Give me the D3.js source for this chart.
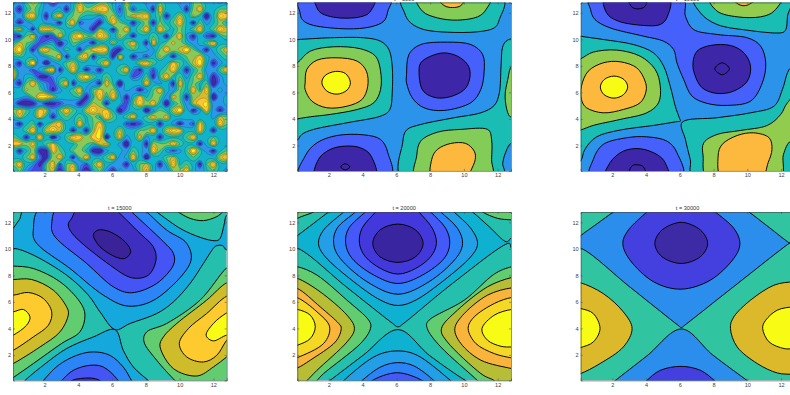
<!DOCTYPE html>
<html>
<head>
<meta charset="utf-8">
<script src="https://cdnjs.cloudflare.com/ajax/libs/d3/7.8.5/d3.min.js"></script>
<style>
body {margin:0; background:#fff; overflow:hidden;}
text {font-family:"Liberation Sans",Arial,sans-serif;}
</style>
</head>
<body>
<svg id="chart" width="790" height="395"></svg>
<script>
var xTicks = [2,4,6,8,10,12];
var yTicks = [2,4,6,8,10,12];
var xDomain = [0.125,12.79];
var yDomain = [0.08,12.78];

//first panel: field on a regular grid, rows from the top of the frame
var field0 = [
[4,3,5,6,5,3,1,3,3,4,6,4,4,5,5,4,3,7,4,4,3,3,5,4,4,3,3,5,5,4,4,3,4],
[3,1,4,5,4,3,3,4,1,4,8,5,6,8,7,4,2,5,2,4,4,1,8,4,4,4,1,5,8,4,4,5,5],
[4,3,6,8,4,1,5,8,4,5,5,4,4,3,5,6,3,5,7,6,8,4,5,1,4,6,4,6,4,0,4,8,7],
[3,1,3,4,4,3,3,1,5,8,2,3,3,1,4,8,5,4,1,4,5,1,5,4,5,8,4,1,5,3,4,5,4],
[5,7,4,1,6,8,6,5,4,4,4,3,1,6,4,1,5,8,4,5,8,4,8,5,4,5,4,5,8,4,5,8,6],
[2,1,5,8,3,1,2,8,4,6,9,5,5,8,6,4,6,4,1,4,4,5,4,1,5,8,3,1,4,2,1,4,5],
[4,6,5,4,2,3,4,0,3,5,4,3,1,4,4,6,4,5,8,4,1,8,4,5,6,5,4,3,4,5,8,4,4],
[6,9,4,1,6,8,5,3,5,4,1,5,7,8,7,2,1,4,5,4,4,3,5,8,5,6,9,5,3,1,4,5,7],
[4,5,4,4,3,4,5,8,1,4,6,8,1,4,4,1,8,4,1,3,2,4,6,4,1,4,5,5,7,4,3,4,5],
[3,1,5,9,3,0,3,4,5,6,4,4,4,5,8,4,4,4,4,6,8,5,4,4,7,5,4,6,9,4,1,3,4],
[6,3,3,2,4,6,8,1,4,8,4,1,3,1,4,4,5,8,3,1,4,2,4,5,8,4,1,4,5,3,3,5,8],
[8,3,4,4,1,1,3,4,4,4,6,9,5,4,5,4,4,4,2,3,5,1,5,8,4,5,3,5,8,4,1,3,4],
[3,1,5,8,4,3,2,5,8,1,4,4,3,1,8,4,0,4,4,4,8,4,3,4,1,8,4,5,4,5,0,3,4],
[4,4,6,5,5,3,1,3,4,5,8,3,5,7,5,6,3,4,3,1,3,5,8,4,3,5,4,8,4,8,3,4,3],
[4,4,3,5,8,8,6,4,4,4,5,1,4,8,4,8,4,1,4,7,4,5,5,3,7,5,1,5,6,6,0,3,4],
[3,1,0,1,3,1,1,2,3,3,1,3,6,5,1,4,4,2,5,8,5,8,4,0,4,5,3,6,7,8,3,3,4],
[5,7,5,4,7,6,3,5,8,5,4,6,8,6,7,4,0,3,4,4,0,3,5,4,6,9,4,1,3,7,3,1,3],
[4,6,4,4,7,4,1,4,5,4,5,4,5,4,8,5,4,5,8,4,5,7,5,7,4,4,4,4,4,4,3,6,5],
[3,1,4,5,1,4,6,7,4,4,8,4,5,7,4,4,4,2,1,2,4,4,1,4,3,1,3,2,7,4,4,8,5],
[4,4,5,8,4,6,8,6,4,1,4,1,5,8,4,4,6,4,4,5,5,8,4,6,8,7,4,4,7,4,1,4,4],
[5,4,1,4,8,4,0,3,5,8,7,5,7,8,0,4,7,3,4,7,3,4,1,4,4,4,5,8,4,4,5,4,4],
[7,7,5,7,4,5,7,4,4,4,5,5,4,6,7,4,3,0,4,4,1,6,5,5,8,5,4,4,1,4,8,4,4],
[4,1,4,5,1,1,7,5,4,5,5,4,1,0,3,4,4,3,5,4,3,8,5,3,2,3,5,9,5,3,1,4,5],
[4,4,5,8,3,1,5,8,4,1,5,8,4,4,5,8,3,4,8,4,0,4,4,5,6,4,4,5,4,4,4,6,8],
[5,8,4,3,1,5,8,2,5,6,3,2,5,8,4,3,3,1,4,5,6,4,1,4,8,4,5,4,1,5,8,4,4],
[4,5,3,2,2,5,6,1,5,8,3,0,4,5,3,1,4,3,3,5,8,4,3,3,5,5,8,4,3,4,5,4,3]
];
var levels0 = [1.6,2.3,2.9,3.5,4.2,5.0,5.6,6.2,7.2];
var colors0 = ["#3d2aa8","#4648e0","#3f70f4","#2a98e6","#12b2cc","#2fc29c","#8ac85a","#d4bb30","#fcc534","#f8f020"];

//other panels: [level, outline of the level read as x,y pairs]
var colors5000 = ["#3d27a8","#4660fb","#2b93ea","#19bdb4","#83cc58","#fcb93e","#f8fb14"];
var base5000 = 2;
var lines5000 = [
[1,[[0.29,13.2],[0.29,12],[0.45,11.45],[1.09,11.05],[3.07,10.79],[4.46,10.94],[5.25,11.37],[5.49,12.13],[5.57,13.2]]],
[0,[[1.25,13.2],[1.29,12.38],[1.58,11.95],[2.28,11.67],[3.07,11.6],[3.87,11.7],[4.42,12.05],[4.66,13.2]]],
[1,[[0.29,-0.5],[0.59,1.2],[1.29,2.2],[2.48,2.75],[4.06,2.8],[5.06,2.45],[5.49,1.45],[5.57,-0.5]]],
[0,[[1.25,-0.5],[1.38,0.95],[2.08,1.7],[2.97,1.95],[3.87,1.82],[4.5,1.2],[4.7,-0.5]]],
[0,[[2.7,0.39],[2.97,0.62],[3.24,0.39],[2.97,0.16]]],
[1,[[6.6,7.35],[6.74,8.86],[7.44,9.61],[9.02,9.79],[10.41,9.61],[11.11,8.86],[11.2,7.6],[11.0,6.22],[10.41,5.22],[8.83,4.64],[7.63,4.84],[6.94,5.59],[6.6,6.72]]],
[0,[[7.34,7.48],[7.44,8.23],[8.03,8.73],[8.83,8.98],[9.62,8.73],[10.21,8.11],[10.37,7.35],[10.12,6.35],[9.42,5.77],[8.53,5.57],[7.83,5.84],[7.48,6.35]]],
[3,[[-0.5,9.99],[0.13,9.99],[2.08,10.12],[4.06,10.12],[5.06,9.86],[5.55,9.24],[5.75,7.98],[5.75,5.97],[5.61,4.71],[5.06,4.21],[3.07,3.71],[1.09,3.21],[0.39,2.83],[0.13,2.4],[-0.5,2]]],
[4,[[-0.5,7.8],[0.13,8.23],[0.89,9.11],[2.28,9.44],[3.87,9.29],[4.76,8.73],[5.06,7.6],[5.06,6.22],[4.66,5.22],[3.67,4.71],[2.08,4.34],[0.89,4.16],[0.13,4.01],[-0.5,3.9]]],
[5,[[0.59,6.72],[0.69,7.73],[1.29,8.43],[2.48,8.61],[3.67,8.36],[4.22,7.6],[4.3,6.47],[3.96,5.47],[3.07,4.96],[1.88,4.84],[0.99,5.34],[0.59,6.22]]],
[6,[[1.58,6.72],[1.78,7.28],[2.38,7.58],[2.97,7.43],[3.27,6.77],[3.07,6.17],[2.48,5.87],[1.88,6.1]]],
[3,[[6.38,-0.5],[6.37,2.2],[6.6,3.16],[7.44,3.58],[9.42,4.09],[11.0,4.46],[11.8,5.02],[12.1,5.97],[12.2,7.98],[12.28,9.36],[12.5,9.86],[12.83,10.04],[13.5,10.04],[13.5,2.0],[12.83,2.2],[12.5,1.57],[12.3,0.69],[12.26,-0.5]]],
[3,[[6.4,13.2],[6.48,12],[6.84,11.25],[7.63,10.74],[9.02,10.54],[10.81,10.57],[11.8,10.87],[12.1,11.5],[12.24,13.2]]],
[4,[[7.2,-0.5],[7.2,1.2],[7.44,2.33],[8.43,3.0],[9.82,3.21],[11.4,3.21],[11.64,2.45],[11.64,0.94],[11.56,-0.5]]],
[5,[[8.13,-0.5],[8.09,0.94],[8.43,1.7],[9.22,2.15],[10.11,2.15],[10.61,1.57],[10.67,0.94],[10.41,0.09],[10.2,-0.5]]],
[4,[[7.28,13.2],[7.54,12.13],[8.43,11.62],[9.62,11.45],[10.81,11.7],[11.31,12.25],[11.5,13.2]]],
[5,[[8.43,13.2],[8.83,12.55],[9.32,12.4],[9.82,12.55],[10.06,13.2]]],
[4,[[13.5,8.3],[12.83,7.98],[12.6,6.97],[12.44,5.72],[12.6,4.46],[12.83,4.09],[13.5,3.9]]]
];

var colors10000 = ["#3d27a8","#4660fb","#2b93ea","#19bdb4","#92cc4e","#fcb93e","#f8fb14"];
var base10000 = 2;
var lines10000 = [
[1,[[0.71,13.2],[0.71,12.25],[0.97,11.5],[1.86,10.87],[3.85,10.24],[5.04,9.86],[5.63,9.24],[5.83,8.23],[6.23,6.97],[6.72,5.72],[7.62,5.17],[8.81,5.02],[10.19,5.34],[10.89,6.72],[11.09,8.23],[10.79,9.49],[10,10.12],[8.21,10.37],[6.82,10.74],[6.33,11.75],[6.07,13.2]]],
[1,[[0.77,-0.5],[0.87,0.94],[1.46,2.08],[2.85,2.58],[4.04,2.65],[5.23,2.33],[5.83,1.45],[6.07,-0.5]]],
[0,[[1.62,13.2],[1.66,12],[2.36,11.37],[3.85,11.05],[4.84,11.12],[5.27,11.75],[5.31,13.2]]],
[0,[[2.95,13.2],[3.15,12.45],[3.55,12.3],[3.94,12.5],[4.04,13.2]]],
[0,[[6.78,8.23],[7.02,9.11],[7.81,9.54],[9,9.54],[9.8,8.98],[10.19,7.98],[10,6.85],[9.2,6.1],[8.21,5.92],[7.32,6.35],[6.88,7.35]]],
[0,[[8.07,7.78],[8.51,8.23],[8.94,7.78],[8.51,7.33]]],
[0,[[1.66,-0.5],[1.86,0.69],[2.65,1.57],[3.65,1.75],[4.64,1.32],[5.13,0.69],[5.23,-0.5]]],
[0,[[2.95,-0.5],[3.15,0.44],[3.49,0.54],[3.85,0.37],[4.0,-0.5]]],
[3,[[-0.5,10.4],[0.115,10.24],[1.46,9.99],[3.25,9.61],[4.44,8.98],[5.04,7.98],[5.43,6.47],[5.73,4.96],[5.95,4.15],[6.03,3.83],[5.85,3.8],[4.44,3.51],[2.46,3.16],[1.07,2.65],[0.37,1.7],[0.115,0.82],[-0.5,0.5]]],
[4,[[-0.5,8.3],[0.115,8.53],[0.87,9.04],[2.26,9.19],[3.65,8.73],[4.54,7.73],[4.84,6.47],[4.74,5.22],[4.04,4.46],[2.46,3.96],[0.87,3.51],[0.115,3.16],[-0.5,3]]],
[5,[[0.17,6.47],[0.57,7.6],[1.46,8.23],[2.46,8.31],[3.45,7.85],[3.94,6.85],[4,6.1],[3.65,5.22],[2.65,4.71],[1.46,4.46],[0.47,4.84],[0.17,5.47]]],
[6,[[1.29,6.4],[1.52,6.97],[2.1,7.23],[2.69,6.97],[2.91,6.4],[2.65,5.82],[2.1,5.57],[1.52,5.82]]],
[3,[[6.15,3.76],[8.21,4.09],[10.19,4.46],[11.58,4.96],[12.08,6.22],[12.38,7.48],[12.6,7.85],[13.5,8],[13.5,-0.5],[6.92,-0.5],[6.62,0.94],[6.33,2.45]]],
[4,[[7.71,-0.5],[7.38,1.2],[7.42,2.2],[8.21,2.83],[9.6,3.13],[11.19,3.51],[11.98,4.34],[12.38,5.22],[13.5,6.5],[13.5,2.2],[12.58,2.33],[12.14,1.32],[11.88,-0.5]]],
[5,[[8.51,-0.5],[8.27,1.2],[8.51,2.08],[9.4,2.75],[10.39,2.95],[11.29,2.58],[11.46,1.7],[11.23,0.69],[10.79,-0.5]]],
[3,[[6.92,13.2],[7.22,12],[8.21,11.12],[10,10.69],[11.98,10.49],[12.28,10.74],[12.38,11.75],[12.48,13.2]]],
[4,[[7.81,13.2],[8.21,12.13],[9.4,11.7],[10.79,11.7],[11.58,12.13],[11.94,13.2]]],
[5,[[9.1,13.2],[9.5,12.63],[10,12.58],[10.59,13.2]]]
];

var colors15000 = ["#3a2399","#3f2fc0","#4555f5","#2b85f7","#15a8dc","#25bfae","#62cc70","#cfbc2b","#fecb2e","#f8fb14"];
var base15000 = 5;
var lines15000 = [
[4,[[-0.5,10.4],[0.14,11.55],[0.5,12.2],[1.07,13.2],[8.1,13.2],[8.64,12.78],[10.02,11.55],[11.21,10.87],[12.1,10.61],[12.4,10.79],[12.63,11.8],[12.79,12.55],[13.5,13.2],[13.5,9.9],[12.79,9.91],[12.55,10.24],[12.2,10.24],[12,10.04],[11.41,8.9],[10.62,7.39],[9.63,6.0],[8.64,5.12],[7.06,4.37],[6.17,3.91],[5.28,5.25],[4.59,6.51],[3.3,8.02],[1.33,9.53],[0.14,10.04],[-0.5,9.8]]],
[4,[[0.5,-0.5],[0.83,0.06],[1.92,1.22],[3.3,2.48],[4.89,3.36],[6.17,3.91],[6.66,2.35],[7.26,1.09],[8.15,0.06],[8.6,-0.5]]],
[3,[[1.9,13.2],[1.33,11.42],[1.53,10.41],[3.5,8.52],[5.48,6.51],[6.96,5.68],[8.64,6.26],[10.62,8.9],[10.42,10.41],[9.23,11.42],[8.05,12.78],[7.6,13.2]]],
[2,[[2.9,13.2],[2.42,11.92],[2.61,10.92],[4.49,8.9],[6.07,7.14],[7.16,6.69],[8.64,7.39],[9.63,8.78],[9.63,9.66],[9.04,10.54],[7.16,12.78],[6.8,13.2]]],
[1,[[4.1,13.2],[3.6,12.3],[3.4,11.8],[3.8,10.92],[5.87,8.78],[7.16,7.82],[8.15,8.02],[8.6,9.15],[8.44,10.16],[7.65,11.17],[6.37,12.78],[6,13.2]]],
[0,[[4.89,11.04],[5.18,11.42],[5.87,11.29],[6.76,10.54],[7.1,9.78],[6.76,9.28],[6.17,9.41],[5.28,10.16]]],
[3,[[1.6,-0.5],[1.92,0.06],[2.81,1.22],[3.9,1.97],[4.89,2.23],[5.87,1.97],[6.66,1.09],[7.16,0.06],[7.5,-0.5]]],
[2,[[2.7,-0.5],[3.01,0.06],[3.7,0.84],[4.69,1.22],[5.48,1.09],[6.27,0.21],[6.5,-0.5]]],
[1,[[3.3,-0.5],[3.6,0.06],[4.69,0.26],[5.28,0.06],[5.7,-0.5]]],
[6,[[9.5,13.2],[9.92,12.78],[10.62,12.3],[11.41,12.13],[12.2,12.43],[12.55,12.78],[12.9,13.2]]],
[6,[[13.5,9],[12.79,8.57],[11.21,6.13],[9.23,4.37],[8.05,3.74],[7.89,2.98],[8.64,1.6],[9.73,0.06],[10.2,-0.5],[13.5,-0.5]]],
[7,[[13.5,7.5],[12.79,7.44],[11.6,6.13],[9.83,4.37],[9.04,3.36],[8.84,2.6],[9.63,0.97],[11.01,0.41],[12,1.09],[12.79,1.85],[13.5,2.5]]],
[8,[[13.5,6.5],[12.79,6.43],[11.6,5.12],[10.52,3.99],[9.98,2.86],[10.42,1.85],[11.41,1.47],[12.2,1.97],[12.79,3.11],[13.5,4]]],
[9,[[13.5,5.5],[12.79,5.17],[12,4.37],[11.57,3.49],[12,3.06],[12.79,3.49],[13.5,3.5]]],
[6,[[-0.5,8.7],[0.14,8.7],[1.33,8.52],[2.91,7.52],[4.09,6.0],[4.39,5],[4.09,3.74],[3,2.86],[1.33,1.35],[0.14,0.29],[-0.5,-0.3]]],
[7,[[-0.5,7.7],[0.14,7.69],[1.23,7.69],[2.51,6.89],[3.3,5.63],[3.4,5],[2.91,3.74],[1.72,2.6],[0.14,1.35],[-0.5,1]]],
[8,[[-0.5,6.6],[0.14,6.51],[1.03,6.71],[1.92,6.26],[2.42,5.25],[2.22,4.24],[1.33,3.36],[0.14,2.35],[-0.5,2]]],
[9,[[-0.5,5.2],[0.14,5.25],[0.74,5.43],[1.13,4.87],[0.93,4.24],[0.14,3.49],[-0.5,3.2]]]
];

var colors20000 = ["#3a25a0","#4338dc","#4558f8","#2a84f8","#229fe6","#0eb2d0","#25bfae","#62cc70","#b7bd35","#f9b43c","#f5d824","#f8fb14"];
var base20000 = 6;
var lines20000 = [
[5,[[-0.5,10.3],[0.13,10.99],[1.09,11.92],[1.98,12.78],[2.5,13.2],[10,13.2],[10.51,12.78],[11.5,11.67],[12.5,10.54],[12.83,10.87],[13.5,11.4],[13.5,9.6],[12.83,10.04],[12.6,10.41],[9.32,7.39],[6.45,4.4],[6.09,4.12],[5.75,4.4],[3.07,7.09],[0.13,10.04],[-0.5,9.55]]],
[5,[[6.09,3.91],[7.95,1.97],[10.11,0.06],[11,-0.5],[1.4,-0.5],[2.04,0.06],[4.02,1.97]]],
[4,[[3.2,13.2],[2.87,12.78],[1.68,11.42],[1.38,10.41],[1.78,9.41],[3.47,7.52],[5.06,6.13],[6.09,5.73],[7.14,6.13],[8.83,7.64],[10.41,9.41],[10.81,10.41],[10.41,11.55],[9.42,12.78],[9.1,13.2]]],
[3,[[3.9,13.2],[3.57,12.78],[2.48,11.55],[2.28,10.41],[2.67,9.28],[4.26,7.52],[6.09,6.58],[7.93,7.52],[9.52,9.28],[9.92,10.41],[9.62,11.55],[8.63,12.78],[8.3,13.2]]],
[2,[[4.5,13.2],[4.16,12.78],[3.17,11.55],[2.99,10.41],[3.37,9.28],[4.66,8.02],[6.09,7.39],[7.54,8.02],[8.83,9.28],[9.16,10.41],[8.92,11.55],[8.03,12.78],[7.7,13.2]]],
[1,[[5,13.2],[4.76,12.78],[3.96,11.55],[3.81,10.41],[4.16,9.41],[5.06,8.52],[6.09,8.1],[7.14,8.52],[8.03,9.41],[8.37,10.41],[8.13,11.55],[7.34,12.78],[7.1,13.2]]],
[0,[[4.6,10.41],[5.02,11.42],[6.09,11.87],[7.14,11.42],[7.58,10.41],[7.14,9.41],[6.09,8.98],[5.02,9.41]]],
[4,[[2.5,-0.5],[2.87,0.06],[4.66,1.85],[5.95,2.3],[7.24,1.97],[9.22,0.06],[9.7,-0.5]]],
[3,[[3.6,-0.5],[3.96,0.06],[5.06,1.09],[6.05,1.42],[7.04,1.17],[8.23,0.06],[8.6,-0.5]]],
[2,[[4.3,-0.5],[4.56,0.06],[6.05,0.66],[7.54,0.06],[7.9,-0.5]]],
[7,[[-0.5,13.2],[-0.5,11.7],[0.13,12.3],[1.09,12.78],[1.5,13.2]]],
[7,[[10.8,13.2],[11.11,12.78],[12,12.3],[12.83,12.18],[13.5,12.1],[13.5,13.2]]],
[7,[[-0.5,8.6],[0.13,8.65],[1.29,8.02],[3.07,6.13],[4.36,4.62],[4.46,3.99],[3.87,2.86],[1.68,0.59],[1.29,0.06],[0.9,-0.5],[-0.5,-0.5]]],
[8,[[-0.5,7.8],[0.13,7.77],[1.48,6.76],[3.07,5],[3.51,3.99],[3.07,2.98],[1.29,0.84],[0.69,0.06],[0.2,-0.5],[-0.5,-0.5]]],
[9,[[-0.5,7],[0.13,7.01],[1.48,5.63],[2.58,4.37],[2.73,3.99],[2.38,2.98],[0.89,1.6],[0.13,1.02],[-0.5,0.8]]],
[10,[[-0.5,6.3],[0.13,6.31],[1.29,5.25],[2.04,4.12],[1.68,2.86],[0.13,1.8],[-0.5,1.6]]],
[11,[[-0.5,5.4],[0.13,5.43],[0.89,5],[1.19,4.12],[0.89,3.23],[0.13,2.73],[-0.5,2.5]]],
[7,[[13.5,8.7],[12.83,8.65],[11.8,8.1],[10.02,6.13],[7.93,4.62],[7.83,3.99],[8.63,2.6],[10.81,0.06],[11.2,-0.5],[13.5,-0.5]]],
[8,[[13.5,7.9],[12.83,7.84],[11.4,7.14],[9.62,5.38],[8.67,3.99],[9.02,2.98],[11.01,0.59],[11.8,0.06],[12.2,-0.5],[13.5,-0.5]]],
[9,[[13.5,7],[12.83,7.06],[11.4,6.51],[10.02,5.12],[9.46,3.99],[9.82,2.86],[11.01,1.6],[12.83,0.97],[13.5,0.8]]],
[10,[[13.5,6.3],[12.83,6.33],[11.8,5.88],[10.61,4.87],[10.25,3.99],[10.71,2.86],[11.8,2.1],[12.83,1.77],[13.5,1.6]]],
[11,[[13.5,5.4],[12.83,5.43],[11.8,5],[11.07,3.99],[11.4,3.11],[12.2,2.65],[12.83,2.6],[13.5,2.6]]]
];

var colors30000 = ["#3d2aa5","#4440e0","#2b8eec","#30c5a0","#dcb92b","#f8fb14"];
var base30000 = 3;
var lines30000 = [
[2,[[-0.5,10.3],[0.115,10.99],[1.07,11.87],[2.06,12.78],[2.6,13.2],[9.6,13.2],[10.1,12.78],[11.29,11.62],[12.48,10.46],[12.6,10.44],[12.48,10.41],[9.2,7.16],[6.3,4.25],[6.09,4.07],[5.88,4.25],[3.05,7.11],[0.115,10.04],[-0.5,9.55]]],
[2,[[6.09,3.96],[7.93,2.02],[10,0.06],[10.6,-0.5],[1.6,-0.5],[2.16,0.06],[4.04,1.92]]],
[1,[[2.62,10.41],[2.95,11.42],[4.04,12.78],[4.4,13.2],[7.7,13.2],[8.11,12.78],[9.2,11.55],[9.56,10.41],[9.2,9.28],[7.81,7.64],[6.07,6.96],[4.44,7.52],[3.05,9.15]]],
[0,[[4.52,10.41],[4.94,11.42],[6.09,12],[7.22,11.42],[7.65,10.41],[7.22,9.41],[6.09,8.9],[4.94,9.41]]],
[1,[[3.7,-0.5],[4.04,0.06],[4.84,0.84],[6.07,1.14],[7.22,0.84],[8.05,0.06],[8.4,-0.5]]],
[4,[[-0.5,7.45],[0.115,7.44],[1.46,6.63],[2.65,5.25],[3.17,3.99],[2.65,2.6],[1.27,1.35],[0.115,0.59],[-0.5,0.4]]],
[5,[[-0.5,5.6],[0.115,5.5],[0.87,5.12],[1.27,3.99],[0.87,2.98],[0.115,2.55],[-0.5,2.3]]],
[4,[[13.5,7.5],[12.77,7.52],[11.58,7.26],[10.19,6.13],[9.2,4.87],[9,3.99],[9.4,2.6],[10.59,1.35],[11.78,0.64],[12.77,0.54],[13.5,0.5]]],
[5,[[13.5,5.6],[12.77,5.63],[11.78,5.38],[11.09,4.62],[10.91,3.99],[11.29,2.98],[12.18,2.48],[12.77,2.48],[13.5,2.48]]]
];

var titles = ["t = 0","t = 5000","t = 10000","t = 15000","t = 20000","t = 30000"];
var panelLines = [null,lines5000,lines10000,lines15000,lines20000,lines30000];
var panelColors = [colors0,colors5000,colors10000,colors15000,colors20000,colors30000];
var panelBase = [0,base5000,base10000,base15000,base20000,base30000];

var frameLeft = [13,297.3,580.7];
var frameWidth = 213.7;
var frameTop = [2.5,212];
var frameHeight = 168.4;

var svg = d3.select("#chart");

panelLines.forEach(function(lines,i) {
	var left = frameLeft[i%3];
	var top = frameTop[Math.floor(i/3)];
	var x = d3.scaleLinear().domain(xDomain).range([left,left+frameWidth]);
	var y = d3.scaleLinear().domain(yDomain).range([top+frameHeight,top]);

	svg.append("clipPath").attr("id","clip"+i)
		.append("rect")
		.attr("x",left).attr("y",top)
		.attr("width",frameWidth).attr("height",frameHeight);

	var g = svg.append("g").attr("clip-path","url(#clip"+i+")");

	g.append("rect")
		.attr("x",left).attr("y",top)
		.attr("width",frameWidth).attr("height",frameHeight)
		.style("fill",panelColors[i][panelBase[i]]);

	if (i==0) {
		drawField(g,x,y);
	} else {
		var line = d3.line()
			.x(function(d) {return x(d[0]);})
			.y(function(d) {return y(d[1]);})
			.curve(d3.curveCatmullRomClosed.alpha(0.3));

		g.selectAll("path.level")
			.data(lines).enter()
			.append("path")
			.attr("class","level")
			.attr("d",function(d) {return line(d[1]);})
			.style("fill",function(d) {return panelColors[i][d[0]];})
			.style("stroke","#000")
			.style("stroke-width",0.95);
	}

	drawAxes(x,y,left,top);

	svg.append("text")
		.attr("x",left+frameWidth/2).attr("y",Math.max(top-2.3,1))
		.attr("text-anchor","middle")
		.style("font-size","5.6px")
		.style("fill","#333")
		.text(titles[i]);
});

function drawField(g,x,y) {
	var rows = field0.length;
	var cols = field0[0].length;
	var flat = [].concat.apply([],field0);
	//grid index to axis value
	var xi = d3.scaleLinear().domain([0.5,cols-0.5]).range(xDomain);
	var yi = d3.scaleLinear().domain([0.5,rows-0.5]).range([yDomain[1],yDomain[0]]);
	var ring = d3.line()
		.x(function(d) {return x(xi(d[0]));})
		.y(function(d) {return y(yi(d[1]));})
		.curve(d3.curveBasisClosed);
	var contours = d3.contours().size([cols,rows]).thresholds(levels0)(flat);
	g.selectAll("path.field")
		.data(contours).enter()
		.append("path")
		.attr("class","field")
		.attr("d",function(d) {
			return d.coordinates.map(function(poly) {
				return poly.map(function(r) {return ring(r.slice(0,-1));}).join("");
			}).join("");
		})
		.style("fill-rule","evenodd")
		.style("fill",function(d,k) {return colors0[k+1];})
		.style("stroke","#000")
		.style("stroke-opacity",0.5)
		.style("stroke-width",0.35);
}

function drawAxes(x,y,left,top) {
	var bottom = top+frameHeight;
	var right = left+frameWidth;
	function style(a) {
		a.selectAll("path").style("stroke","#444").style("stroke-width",0.6);
		a.selectAll("line").style("stroke","#444").style("stroke-width",0.5);
		a.selectAll("text").style("font-size","5.6px").style("fill","#444");
	}
	svg.append("g").attr("transform","translate(0,"+bottom+")")
		.call(d3.axisBottom(x).tickValues(xTicks).tickSize(-2).tickPadding(2.5))
		.call(style);
	svg.append("g").attr("transform","translate("+left+",0)")
		.call(d3.axisLeft(y).tickValues(yTicks).tickSize(-2).tickPadding(2))
		.call(style);
	svg.append("g").attr("transform","translate(0,"+top+")")
		.call(d3.axisTop(x).tickValues(xTicks).tickSize(-2).tickFormat(""))
		.call(style);
	svg.append("g").attr("transform","translate("+right+",0)")
		.call(d3.axisRight(y).tickValues(yTicks).tickSize(-2).tickFormat(""))
		.call(style);
}
</script>
</body>
</html>
